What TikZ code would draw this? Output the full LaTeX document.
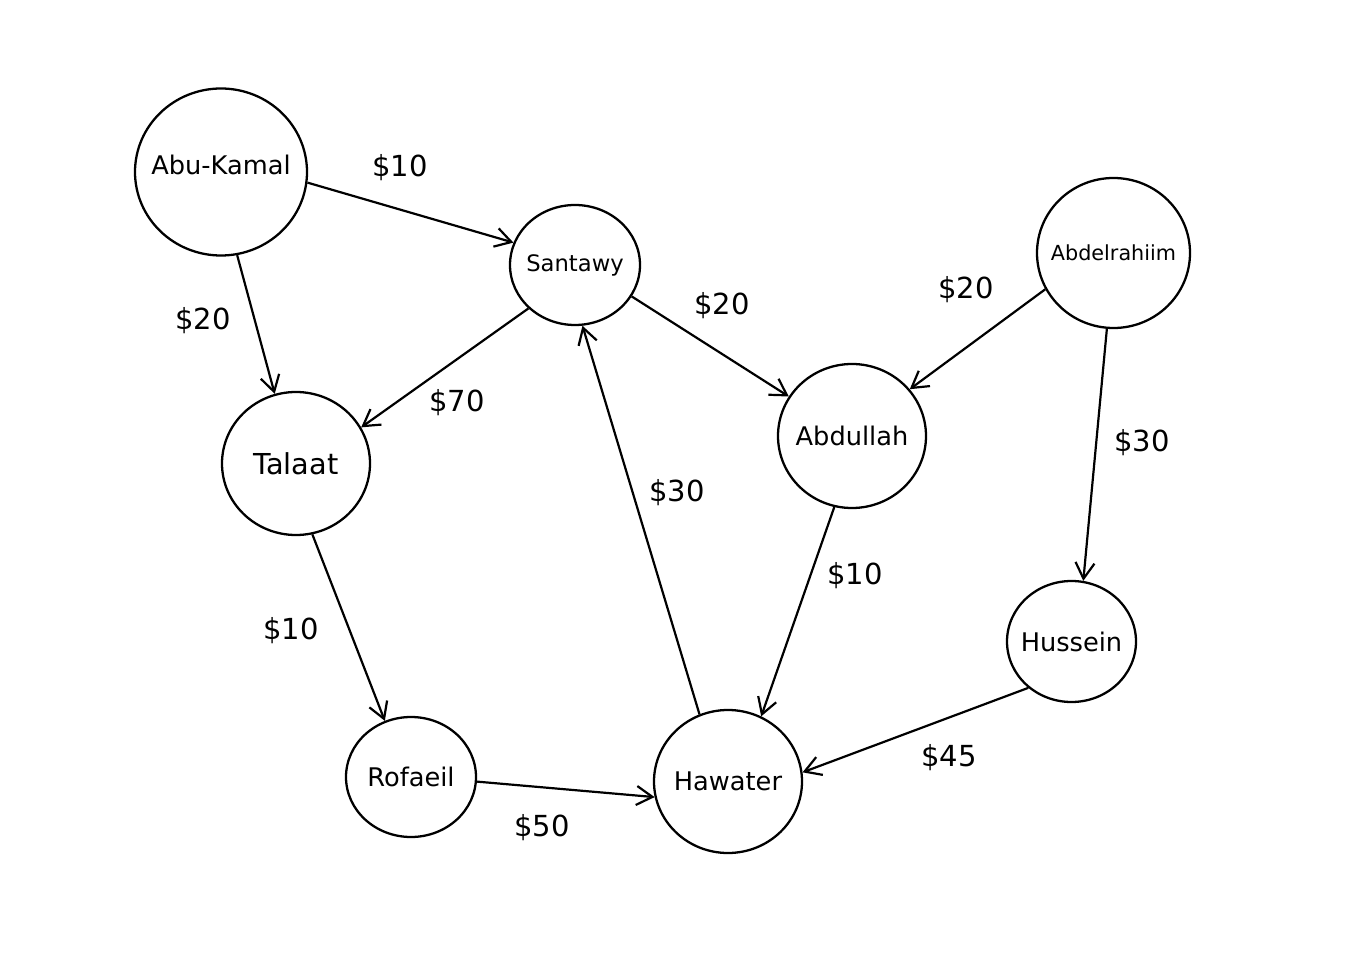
\documentclass[tikz,border=0pt]{standalone}
\usepackage{fontspec}
\setmainfont{DejaVu Sans}
\usetikzlibrary{shapes.geometric, arrows.meta}
\tikzset{
person/.style={ellipse, draw, line width=1.3pt, inner sep=0pt, inner xsep=-1.5cm, font=\fontsize{14.6}{16}\selectfont},
cost/.style={font=\fontsize{16.5}{18}\selectfont},
pay/.style={line width=1.25pt, -{Straight Barb[length=3.2mm, width=3.8mm, line width=1.25pt]}}
}

\begin{document}
\begin{tikzpicture}
  \useasboundingbox (0,0) rectangle (27.22,19.1);
  \node[person, minimum width=3.44cm, minimum height=3.34cm, text depth=0.28cm] (abukamal) at (4.42,15.66) {Abu-Kamal};
  \node[person, minimum width=2.6cm, minimum height=2.4cm, font=\fontsize{12.9}{14}\selectfont] (santawy) at (11.5,13.8) {Santawy};
  \node[person, minimum width=3.06cm, minimum height=3.0cm, font=\fontsize{11.8}{13}\selectfont] (abdelrahiim) at (22.27,14.04) {Abdelrahiim};
  \node[person, minimum width=2.96cm, minimum height=2.86cm, font=\fontsize{16.4}{18}\selectfont] (talaat) at (5.92,9.83) {Talaat};
  \node[person, minimum width=2.96cm, minimum height=2.88cm] (abdullah) at (17.04,10.38) {Abdullah};
  \node[person, minimum width=2.58cm, minimum height=2.42cm] (hussein) at (21.43,6.27) {Hussein};
  \node[person, minimum width=2.6cm, minimum height=2.4cm] (rofaeil) at (8.22,3.56) {Rofaeil};
  \node[person, minimum width=2.96cm, minimum height=2.86cm] (hawater) at (14.56,3.47) {Hawater};

  \draw[pay] (abukamal.-7) -- (santawy.160);
  \draw[pay] (abukamal.-79) -- (talaat.107);
  \draw[pay] (santawy.-137) -- (talaat.29);
  \draw[pay] (santawy.-29) -- (abdullah.148);
  \draw[pay] (abdelrahiim.-152) -- (abdullah.39);
  \draw[pay] (abdelrahiim.-95) -- (hussein.79);
  \draw[pay] (hawater.113) -- (santawy.-83);
  \draw[pay] (abdullah.-104) -- (hawater.63);
  \draw[pay] (talaat.-77) -- (rofaeil.115);
  \draw[pay] (rofaeil.-4) -- (hawater.-168);
  \draw[pay] (hussein.-133) -- (hawater.7);

  \node[cost] (c1) at (8.0,15.75) {\$10};
  \node[cost] (c2) at (4.06,12.69) {\$20};
  \node[cost] (c3) at (9.14,11.05) {\$70};
  \node[cost] (c4) at (14.44,12.99) {\$20};
  \node[cost] (c5) at (19.32,13.31) {\$20};
  \node[cost] (c6) at (22.84,10.25) {\$30};
  \node[cost] (c7) at (13.54,9.25) {\$30};
  \node[cost] (c8) at (17.1,7.59) {\$10};
  \node[cost] (c9) at (5.82,6.49) {\$10};
  \node[cost] (c10) at (10.84,2.55) {\$50};
  \node[cost] (c11) at (18.98,3.95) {\$45};
\end{tikzpicture}
\end{document}
